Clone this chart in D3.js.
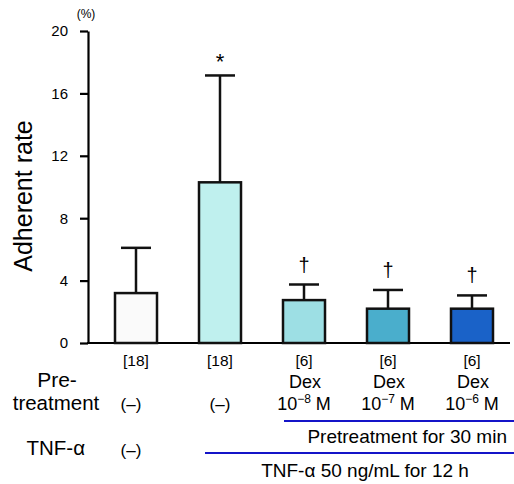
<!DOCTYPE html>
<html>
<head>
<meta charset="utf-8">
<script src="https://cdn.jsdelivr.net/npm/d3@7"></script>
<style>
  body { margin: 0; background: #fff; }
  text { font-family: "Liberation Sans", Arial, sans-serif; fill: #000; }
</style>
</head>
<body>
<div id="chart"></div>
<script>
(function () {
    // data
    var nLabels = ["[18]", "[18]", "[6]", "[6]", "[6]"];
    var means = [3.2, 10.3, 2.75, 2.2, 2.2];
    var sds = [2.9, 6.85, 1.0, 1.2, 0.85];
    var barColors = ["#fafafa", "#bff0ee", "#9ddfe4", "#4aaecc", "#1a62c8"];
    var marks = ["", "*", "\u2020", "\u2020", "\u2020"];
    var pretreat = ["(\u2013)", "(\u2013)", "Dex", "Dex", "Dex"];
    var exponents = [null, null, "\u22128", "\u22127", "\u22126"];
    var yTicks = [0, 4, 8, 12, 16, 20];

    var W = 514, H = 484;
    var svg = d3.select("#chart")
        .append("svg")
        .attr("width", W)
        .attr("height", H);

    var y = d3.scaleLinear().domain([0, 20]).range([343, 31]);
    var x = d3.scalePoint().domain(d3.range(means.length)).range([136, 472]);
    var barW = 42;
    var axisX = 88;

    // y axis
    var yAxis = svg.append("g")
        .attr("transform", "translate(" + axisX + ",0)")
        .call(d3.axisLeft(y).tickValues(yTicks).tickSize(8).tickSizeOuter(0).tickPadding(12));
    yAxis.select(".domain").attr("stroke-width", 2.2);
    yAxis.selectAll(".tick line").attr("stroke-width", 2.2);
    yAxis.selectAll(".tick text")
        .style("font-family", "Liberation Sans, Arial, sans-serif")
        .attr("font-size", 15);

    svg.append("text")
        .text("(%)")
        .attr("x", 86)
        .attr("y", 18)
        .attr("text-anchor", "middle")
        .attr("font-size", 12);

    svg.append("text")
        .text("Adherent rate")
        .attr("transform", "translate(32,196) rotate(-90)")
        .attr("text-anchor", "middle")
        .attr("font-size", 25);

    // x baseline
    svg.append("line")
        .attr("x1", axisX - 1).attr("x2", 510)
        .attr("y1", y(0)).attr("y2", y(0))
        .attr("stroke", "#000")
        .attr("stroke-width", 2.2);

    // error bars
    var err = svg.append("g");
    means.forEach(function (m, i) {
        var top = y(m + sds[i]);
        err.append("line")
            .attr("x1", x(i)).attr("x2", x(i))
            .attr("y1", y(m)).attr("y2", top)
            .attr("stroke", "#111").attr("stroke-width", 2.5);
        err.append("line")
            .attr("x1", x(i) - 15).attr("x2", x(i) + 15)
            .attr("y1", top).attr("y2", top)
            .attr("stroke", "#111").attr("stroke-width", 2.5);

        if (marks[i] === "*") {
            svg.append("text").text(marks[i])
                .attr("x", x(i)).attr("y", top - 6)
                .attr("text-anchor", "middle").attr("font-size", 22);
        } else if (marks[i]) {
            svg.append("text").text(marks[i])
                .attr("x", x(i)).attr("y", top - 13)
                .attr("text-anchor", "middle").attr("font-size", 20);
        }
    });

    // bars
    svg.append("g").selectAll("rect")
        .data(means)
        .join("rect")
        .attr("x", function (d, i) { return x(i) - barW / 2; })
        .attr("y", function (d) { return y(d); })
        .attr("width", barW)
        .attr("height", function (d) { return y(0) - y(d); })
        .attr("fill", function (d, i) { return barColors[i]; })
        .attr("stroke", "#111")
        .attr("stroke-width", 2.5);

    // n labels
    svg.append("g").selectAll("text")
        .data(nLabels)
        .join("text")
        .text(function (d) { return d; })
        .attr("x", function (d, i) { return x(i); })
        .attr("y", 366)
        .attr("text-anchor", "middle")
        .attr("font-size", 15.5);

    // row labels
    svg.append("text").text("Pre-")
        .attr("x", 57).attr("y", 387).attr("text-anchor", "middle").attr("font-size", 21);
    svg.append("text").text("treatment")
        .attr("x", 56).attr("y", 410).attr("text-anchor", "middle").attr("font-size", 20.5);
    svg.append("text").text("TNF-\u03b1")
        .attr("x", 85).attr("y", 455).attr("text-anchor", "end").attr("font-size", 20.5);

    // pretreatment row
    pretreat.forEach(function (p, i) {
        if (exponents[i] === null) {
            svg.append("text").text(p)
                .attr("x", i === 0 ? 131 : x(i)).attr("y", 410)
                .attr("text-anchor", "middle").attr("font-size", 17);
        } else {
            svg.append("text").text(p)
                .attr("x", x(i) + 1).attr("y", 388)
                .attr("text-anchor", "middle").attr("font-size", 18);
            var t = svg.append("text")
                .attr("x", x(i)).attr("y", 410)
                .attr("text-anchor", "middle").attr("font-size", 18);
            t.append("tspan").text("10");
            t.append("tspan").text(exponents[i]).attr("font-size", 12).attr("dy", -7);
            t.append("tspan").text(" M").attr("dy", 7);
        }
    });

    // TNF row
    svg.append("text").text("(\u2013)")
        .attr("x", 131).attr("y", 456).attr("text-anchor", "middle").attr("font-size", 17);

    var blue = "#1414c8";
    svg.append("line")
        .attr("x1", (x(1) + x(2)) / 2 + 22).attr("x2", W)
        .attr("y1", 421).attr("y2", 421)
        .attr("stroke", blue).attr("stroke-width", 2.2);
    svg.append("text").text("Pretreatment for 30 min")
        .attr("x", 507).attr("y", 443).attr("text-anchor", "end").attr("font-size", 19);

    svg.append("line")
        .attr("x1", x(1) - 15).attr("x2", W)
        .attr("y1", 453).attr("y2", 453)
        .attr("stroke", blue).attr("stroke-width", 2.2);
    svg.append("text").text("TNF-\u03b1 50 ng/mL for 12 h")
        .attr("x", 365).attr("y", 477).attr("text-anchor", "middle").attr("font-size", 19);
}())
</script>
</body>
</html>
